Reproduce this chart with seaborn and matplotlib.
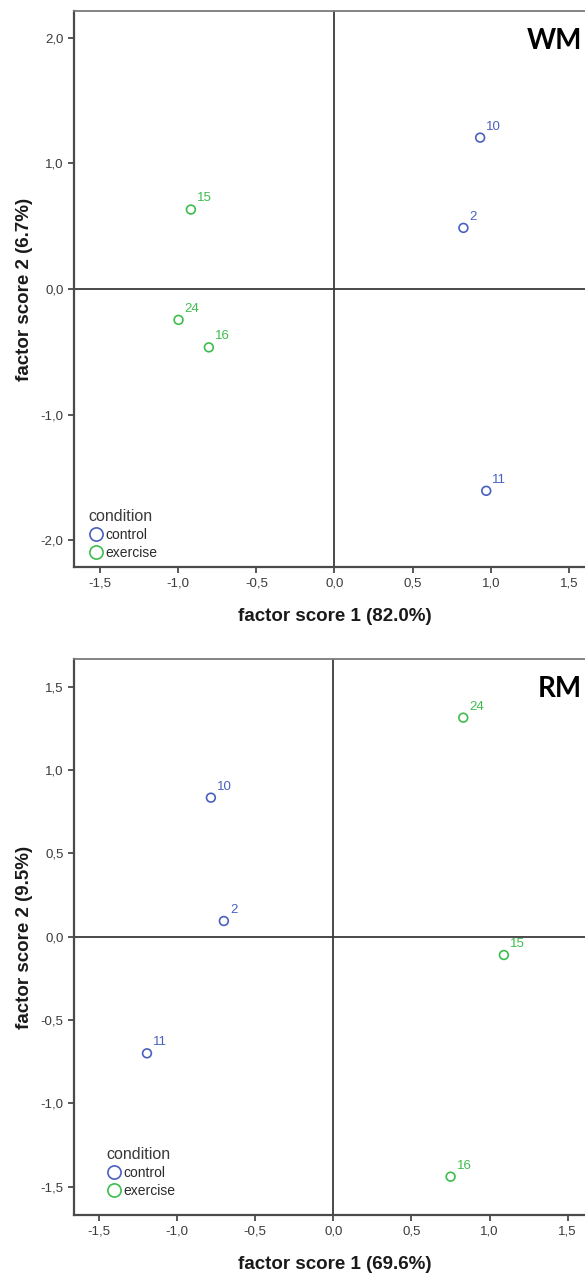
import matplotlib
matplotlib.use("Agg")
import matplotlib.pyplot as plt
from matplotlib.lines import Line2D
from matplotlib.ticker import FuncFormatter, MultipleLocator
import numpy as np
import pandas as pd
import seaborn as sns

# Participant factor scores per memory task
subject_ids = [2, 10, 11, 15, 16, 24]
condition = ["control", "control", "control", "exercise", "exercise", "exercise"]

wm_score1 = [0.825, 0.932, 0.971, -0.919, -0.804, -0.998]
wm_score2 = [0.487, 1.206, -1.608, 0.633, -0.465, -0.246]

rm_score1 = [-0.700, -0.783, -1.192, 1.092, 0.751, 0.832]
rm_score2 = [0.094, 0.834, -0.700, -0.110, -1.440, 1.314]

panels = ["WM", "RM"]
x_labels = ["factor score 1 (82.0%)", "factor score 1 (69.6%)"]
y_labels = ["factor score 2 (6.7%)", "factor score 2 (9.5%)"]
y_steps = [1.0, 0.5]
y_limits = [(-2.215, 2.215), (-1.67, 1.666)]
x_limits = [(-1.667, 1.667), (-1.659, 1.675)]
legend_anchor = [(0.028, 0.012), (0.063, 0.030)]

palette = {"control": "#4a60c0", "exercise": "#3dbd4e"}

sns.set_style("ticks")
plt.rcParams["font.family"] = ["Liberation Sans", "DejaVu Sans"]

W, H = 585, 1275
fig = plt.figure(figsize=(W / 100, H / 100), dpi=100)

axes_px = [(74, 11, 521, 556), (74, 659, 521, 556)]  # left, top, width, height
frames = [
    pd.DataFrame({"id": subject_ids, "condition": condition, "f1": wm_score1, "f2": wm_score2}),
    pd.DataFrame({"id": subject_ids, "condition": condition, "f1": rm_score1, "f2": rm_score2}),
]

def comma_fmt(v, pos):
    return f"{v:.1f}".replace(".", ",").replace("-0,0", "0,0")

for i, df in enumerate(frames):
    l, t, w, h = axes_px[i]
    ax = fig.add_axes([l / W, (H - t - h) / H, w / W, h / H])

    ax.axhline(0, color="#3a3a3a", lw=1.3, zorder=1)
    ax.axvline(0, color="#3a3a3a", lw=1.3, zorder=1)

    sns.scatterplot(data=df, x="f1", y="f2", hue="condition", palette=palette,
                    s=40, linewidth=1.2, legend=False, ax=ax, zorder=3)
    pts = ax.collections[-1]
    pts.set_edgecolors(pts.get_facecolors())
    pts.set_facecolors("none")

    for _, row in df.iterrows():
        ax.annotate(str(row["id"]), (row["f1"], row["f2"]),
                    xytext=(4.3, 5.8), textcoords="offset points",
                    ha="left", va="baseline", fontsize=9.5,
                    color=palette[row["condition"]], zorder=4)

    ax.set_xlim(*x_limits[i])
    ax.set_ylim(*y_limits[i])
    ax.xaxis.set_major_locator(MultipleLocator(0.5))
    ax.yaxis.set_major_locator(MultipleLocator(y_steps[i]))
    ax.xaxis.set_major_formatter(FuncFormatter(comma_fmt))
    ax.yaxis.set_major_formatter(FuncFormatter(comma_fmt))

    for side in ["left", "bottom"]:
        ax.spines[side].set_color("#4a4a4a")
        ax.spines[side].set_linewidth(1.6)
    ax.spines["top"].set_color("#7a7a7a")
    ax.spines["top"].set_linewidth(1.3)
    ax.spines["right"].set_visible(False)

    ax.tick_params(axis="both", direction="out", length=4.5, width=1.3,
                   color="#4a4a4a", labelsize=9.5, labelcolor="#3a3a3a", pad=3)

    ax.set_xlabel(x_labels[i], fontsize=13.5, fontweight="bold", color="#1a1a1a")
    ax.set_ylabel(y_labels[i], fontsize=13.5, fontweight="bold", color="#1a1a1a")
    ax.xaxis.set_label_coords(0.5, (h - 41) / h - 1 + 0.0, transform=ax.transAxes)
    ax.xaxis.label.set_va("top")
    ax.yaxis.set_label_coords(-41 / w, 0.5, transform=ax.transAxes)

    ax.text(0.975, 0.9317, panels[i], transform=ax.transAxes, ha="right",
            va="baseline", fontsize=20, fontweight="bold", family="Lato",
            color="#000000")

    handles = [Line2D([], [], ls="", marker="o", mfc="none", mec=palette[c],
                      ms=9.5, mew=1.2) for c in ["control", "exercise"]]
    leg = ax.legend(handles, ["control", "exercise"], title="condition",
                    loc="lower left", bbox_to_anchor=legend_anchor[i],
                    frameon=False, borderpad=0, borderaxespad=0,
                    handlelength=1.0, handletextpad=0.2, labelspacing=0.3,
                    fontsize=10, title_fontsize=11.5, alignment="left")
    for txt in leg.get_texts():
        txt.set_color("#2a2a2a")
    leg.get_title().set_color("#3a3a3a")

fig.savefig("out.png", dpi=100)
